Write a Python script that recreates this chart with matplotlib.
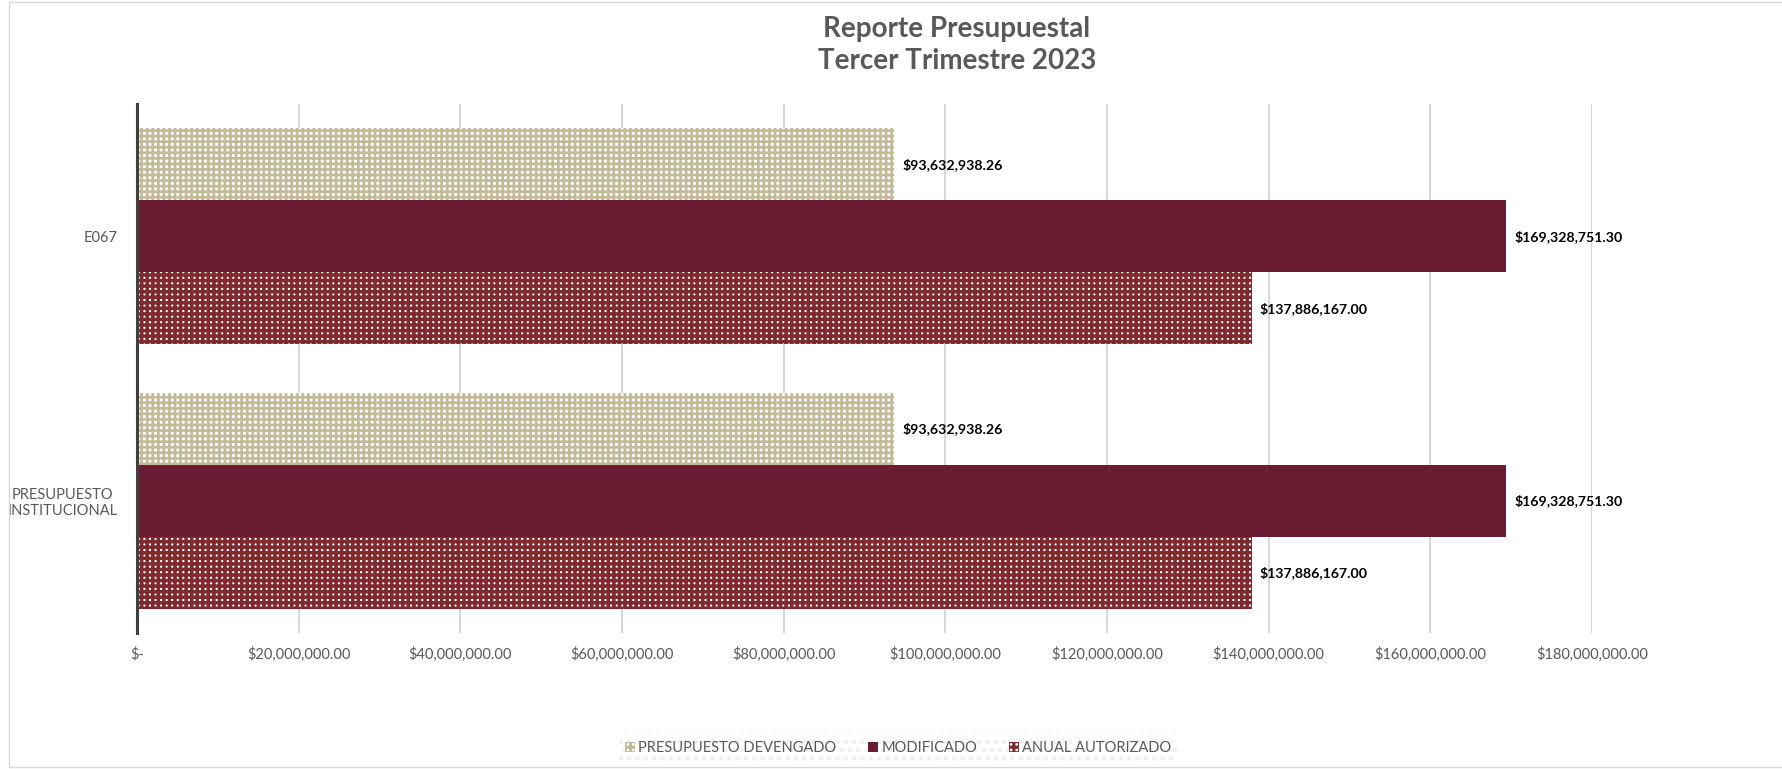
import matplotlib as mpl
import matplotlib.pyplot as plt
from matplotlib.patches import Rectangle
from matplotlib.ticker import FuncFormatter, MultipleLocator

mpl.rcParams["font.family"] = ["Lato", "DejaVu Sans"]
mpl.rcParams["hatch.linewidth"] = 2.2

categories = ["PRESUPUESTO\nINSTITUCIONAL", "E067"]
devengado = [93632938.26, 93632938.26]
modificado = [169328751.30, 169328751.30]
autorizado = [137886167.00, 137886167.00]

series_names = ["PRESUPUESTO DEVENGADO", "MODIFICADO", "ANUAL AUTORIZADO"]

tan = "#C2BA98"
guinda = "#691C32"
rojo = "#7E2A2E"
gray_txt = "#595959"

W, H = 1782, 769
fig = plt.figure(figsize=(W / 100, H / 100), dpi=100)
ax = fig.add_axes([137 / W, 1 - 633 / H, (1592 - 137) / W, (633 - 104) / H])

h = 1 / (3 + 0.667)
y = list(range(len(categories)))


def money(v):
    return f"${v:,.2f}"


b_dev = ax.barh([i + h for i in y], devengado, height=h, facecolor="white",
                edgecolor=tan, hatch="+++", linewidth=0, label=series_names[0])
b_mod = ax.barh(y, modificado, height=h, color=guinda, linewidth=0,
                label=series_names[1])
b_aut = ax.barh([i - h for i in y], autorizado, height=h, facecolor="white",
                edgecolor=rojo, hatch="+++", linewidth=0, label=series_names[2])

# thinner tan lines -> bigger white holes, as in the reference
for bars, lw in [(b_dev, 1.9), (b_aut, 2.5)]:
    for p in bars:
        if hasattr(p, "set_hatch_linewidth"):
            p.set_hatch_linewidth(lw)

for bars, vals in [(b_dev, devengado), (b_mod, modificado), (b_aut, autorizado)]:
    ax.bar_label(bars, labels=[money(v) for v in vals], padding=6,
                 fontsize=10.2, fontweight="bold", color="black")

ax.set_xlim(0, 180e6)
ax.set_ylim(-0.5, 1.5)
ax.xaxis.set_major_locator(MultipleLocator(20e6))
ax.xaxis.set_major_formatter(FuncFormatter(lambda v, p: "$-" if v == 0 else money(v)))
ax.set_yticks(y)
ax.set_yticklabels(categories, multialignment="center")
ax.tick_params(axis="both", length=0, labelsize=10.5, labelcolor=gray_txt)
ax.tick_params(axis="y", pad=14)
ax.tick_params(axis="x", pad=10)

ax.grid(axis="x", color="#D0D0D0", linewidth=1.2)
ax.set_axisbelow(True)
for side in ["top", "right", "bottom"]:
    ax.spines[side].set_visible(False)
ax.spines["left"].set_color("#404040")
ax.spines["left"].set_linewidth(2.2)

fig.text(957 / W, 1 - 45 / H, "Reporte Presupuestal\nTercer Trimestre 2023",
         ha="center", va="center", fontsize=20, fontweight="bold",
         color=gray_txt, linespacing=1.25)

leg = fig.legend(handles=[b_dev, b_mod, b_aut], labels=series_names,
                 loc="center", bbox_to_anchor=(898 / W, 1 - 748 / H), ncol=3,
                 fontsize=10.5, labelcolor=gray_txt, handlelength=0.7,
                 handleheight=0.7, handletextpad=0.2, columnspacing=2.2,
                 fancybox=False, borderpad=0.4)
frame = leg.get_frame()
frame.set_facecolor("white")
frame.set_edgecolor("#EEEEEE")
frame.set_hatch("..")
frame.set_linewidth(0)

# chart area border
fig.patches.append(Rectangle((9 / W, 2 / H), 1.0, 1 - 4 / H, transform=fig.transFigure,
                             fill=False, edgecolor="#D9D9D9", linewidth=1))

fig.savefig("out.png", dpi=100)
plt.close(fig)
